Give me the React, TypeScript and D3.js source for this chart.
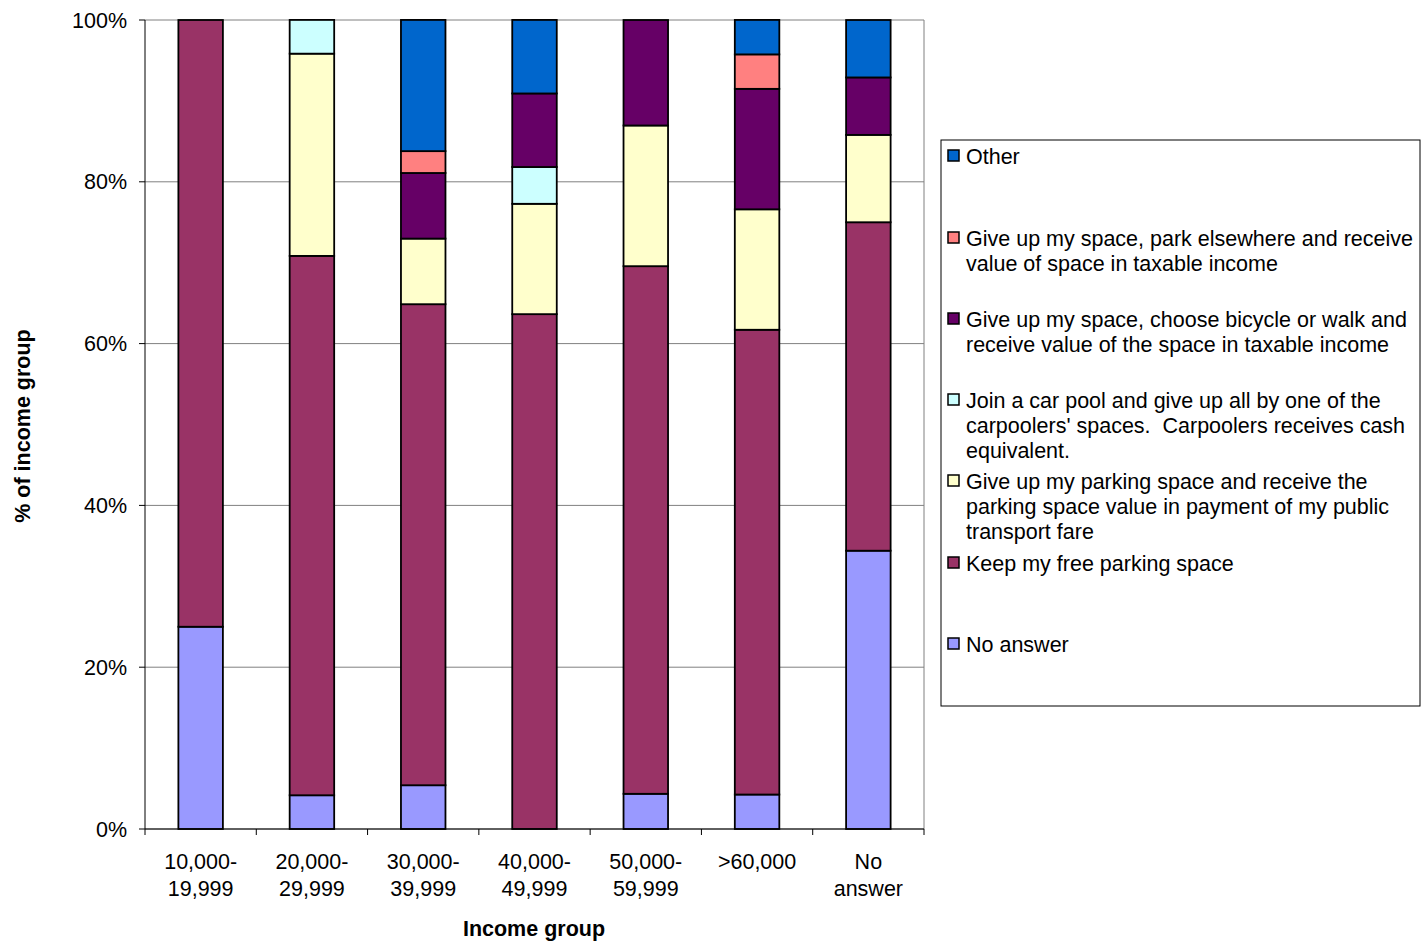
import React from "react";
import * as d3 from "d3";

// Income groups on the x axis
const incomeGroups = [
  ["10,000-", "19,999"],
  ["20,000-", "29,999"],
  ["30,000-", "39,999"],
  ["40,000-", "49,999"],
  ["50,000-", "59,999"],
  [">60,000"],
  ["No", "answer"],
];

// Response options, bottom of the stack first
const seriesKeys = ["noAnswer", "keep", "transit", "carpool", "bicycle", "parkElsewhere", "other"];

const seriesLabels: Record<string, string[]> = {
  other: ["Other"],
  parkElsewhere: ["Give up my space, park elsewhere and receive", "value of space in taxable income"],
  bicycle: ["Give up my space, choose bicycle or walk and", "receive value of the space in taxable income"],
  carpool: ["Join a car pool and give up all by one of the", "carpoolers' spaces.  Carpoolers receives cash", "equivalent."],
  transit: ["Give up my parking space and receive the", "parking space value in payment of my public", "transport fare"],
  keep: ["Keep my free parking space"],
  noAnswer: ["No answer"],
};

const seriesColors: Record<string, string> = {
  noAnswer: "#9999FF",
  keep: "#993366",
  transit: "#FFFFCC",
  carpool: "#CCFFFF",
  bicycle: "#660066",
  parkElsewhere: "#FF8080",
  other: "#0066CC",
};

// Share of each income group (%), one array per response option
const noAnswer = [25.0, 4.17, 5.41, 0, 4.35, 4.26, 34.4];
const keep = [75.0, 66.67, 59.46, 63.64, 65.22, 57.45, 40.6];
const transit = [0, 25.0, 8.11, 13.64, 17.39, 14.89, 10.8];
const carpool = [0, 4.17, 0, 4.55, 0, 0, 0];
const bicycle = [0, 0, 8.11, 9.09, 13.04, 14.89, 7.1];
const parkElsewhere = [0, 0, 2.7, 0, 0, 4.26, 0];
const other = [0, 0, 16.22, 9.09, 0, 4.26, 7.1];

const yTicks = [0, 20, 40, 60, 80, 100];

const legendOrder = ["other", "parkElsewhere", "bicycle", "carpool", "transit", "keep", "noAnswer"];

const W = 1422;
const H = 943;
const plot = { left: 145, right: 924, top: 20, bottom: 829 };
const FONT = "Arial, 'Liberation Sans', sans-serif";
const FS = 21.5;

export default function App() {
  const values: Record<string, number[]> = {
    noAnswer, keep, transit, carpool, bicycle, parkElsewhere, other,
  };
  const rows = incomeGroups.map((g, i) => {
    const r: any = { group: g.join(" ") };
    seriesKeys.forEach((k) => (r[k] = values[k][i]));
    return r;
  });
  const stacked = d3.stack<any>().keys(seriesKeys)(rows);

  const x = d3
    .scaleBand<string>()
    .domain(rows.map((r) => r.group))
    .range([plot.left, plot.right])
    .padding(0);
  const y = d3.scaleLinear().domain([0, 100]).range([plot.bottom, plot.top]);
  const barW = x.bandwidth() * 0.4;
  const boundaries = d3.range(incomeGroups.length + 1).map((i) => plot.left + i * x.step());

  const legend = { x: 941, y: 140, w: 479, h: 566 };
  const entryTops = [156, 238, 319, 400, 481, 563, 644];

  return (
    <svg
      width={W}
      height={H}
      style={{ position: "absolute", left: 0, top: 0, background: "#fff" }}
      fontFamily={FONT}
    >
      <rect x={0} y={0} width={W} height={H} fill="#fff" />
      {/* gridlines */}
      {yTicks.map((t) => (
        <line key={t} x1={plot.left} x2={plot.right} y1={y(t)} y2={y(t)} stroke="#808080" strokeWidth={1} />
      ))}
      <line x1={plot.right} x2={plot.right} y1={plot.top} y2={plot.bottom} stroke="#808080" strokeWidth={1} />

      {/* stacked bars */}
      {stacked.map((s) => (
        <g key={s.key}>
          {s.map((d, i) => {
            const h = y(d[0]) - y(d[1]);
            if (h <= 0.01) return null;
            const cx = (x(rows[i].group) as number) + x.bandwidth() / 2;
            return (
              <rect
                key={i}
                x={cx - barW / 2}
                y={y(d[1])}
                width={barW}
                height={h}
                fill={seriesColors[s.key]}
                stroke="#000"
                strokeWidth={1.8}
              />
            );
          })}
        </g>
      ))}

      {/* axes */}
      <line x1={plot.left} x2={plot.left} y1={plot.top} y2={plot.bottom} stroke="#000" strokeWidth={1} />
      <line x1={plot.left} x2={plot.right} y1={plot.bottom} y2={plot.bottom} stroke="#000" strokeWidth={1} />
      {yTicks.map((t) => (
        <g key={t}>
          <line x1={plot.left - 6} x2={plot.left} y1={y(t)} y2={y(t)} stroke="#000" />
          <text x={127} y={y(t)} dy="0.35em" textAnchor="end" fontSize={FS} fill="#000">
            {t}%
          </text>
        </g>
      ))}
      {boundaries.map((bx, i) => (
        <line key={i} x1={bx} x2={bx} y1={plot.bottom} y2={plot.bottom + 6} stroke="#000" />
      ))}
      {incomeGroups.map((g, i) => {
        const cx = (x(rows[i].group) as number) + x.bandwidth() / 2;
        return (
          <text key={i} textAnchor="middle" fontSize={FS} fill="#000">
            {g.map((line, j) => (
              <tspan key={j} x={cx} y={861 + j * 27.5} dy="0.35em">
                {line}
              </tspan>
            ))}
          </text>
        );
      })}

      {/* axis titles */}
      <text x={534} y={928} dy="0.35em" textAnchor="middle" fontSize={FS} fontWeight="bold" fill="#000">
        Income group
      </text>
      <text
        transform={`translate(22,426) rotate(-90)`}
        dy="0.35em"
        textAnchor="middle"
        fontSize={FS}
        fontWeight="bold"
        fill="#000"
      >
        % of income group
      </text>

      {/* legend */}
      <rect x={legend.x} y={legend.y} width={legend.w} height={legend.h} fill="#fff" stroke="#000" strokeWidth={1} />
      {legendOrder.map((k, i) => (
        <g key={k}>
          <rect
            x={948}
            y={entryTops[i] - 6}
            width={11}
            height={11}
            fill={seriesColors[k]}
            stroke="#000"
            strokeWidth={1.5}
          />
          <text fontSize={FS} fill="#000" style={{ whiteSpace: "pre" }}>
            {seriesLabels[k].map((line, j) => (
              <tspan key={j} x={966} y={entryTops[i] + j * 25} dy="0.35em">
                {line}
              </tspan>
            ))}
          </text>
        </g>
      ))}
    </svg>
  );
}
